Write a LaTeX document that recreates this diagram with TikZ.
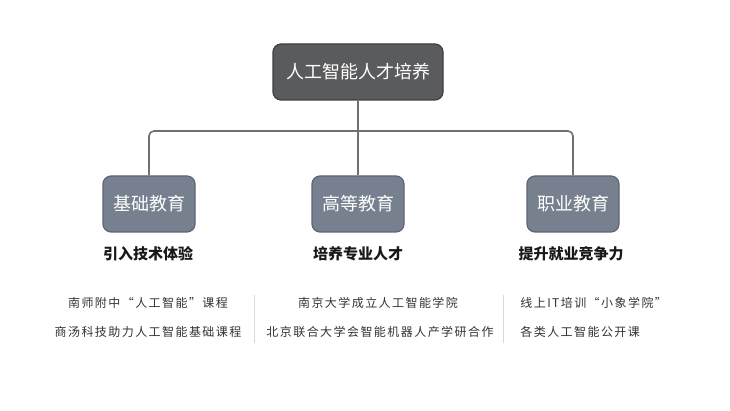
\documentclass[tikz,border=0pt]{standalone}
\usepackage{fontspec}
\setmainfont{Noto Sans CJK SC}
\newfontfamily\cjklist[LetterSpace=12]{Noto Sans CJK SC}
\definecolor{topfill}{HTML}{5A5B5D}
\definecolor{topline}{HTML}{3E3F41}
\definecolor{subfill}{HTML}{77808F}
\definecolor{subline}{HTML}{5C6573}
\definecolor{linkgray}{HTML}{707070}
\begin{document}
\begin{tikzpicture}[x=1pt,y=-1pt,thick,
    top node/.style={rectangle,rounded corners=8pt,draw=topline,fill=topfill,line width=1.2pt,
        minimum width=170pt,minimum height=56pt,inner sep=0pt,text=white,font=\fontsize{18}{20}\selectfont},
    sub node/.style={rectangle,rounded corners=8pt,draw=subline,fill=subfill,line width=1.2pt,
        minimum width=92pt,minimum height=56pt,inner sep=0pt,text=white,font=\fontsize{18}{20}\selectfont},
    goal node/.style={font=\bfseries\fontsize{15}{17}\selectfont,text=black!90,inner sep=0pt},
    item node/.style={font=\cjklist\fontsize{12}{14}\selectfont,text=black!80,inner sep=0pt},
    link/.style={draw=linkgray,line width=1.6pt,rounded corners=5pt},
    sep/.style={draw=black!15,line width=0.8pt}]
    \useasboundingbox (0,0) rectangle (730,411);

    \node[top node] at (358, 72) (root) {人工智能人才培养};
    \node[sub node] at (149, 204) (basic) {基础教育};
    \node[sub node] at (358, 204) (higher) {高等教育};
    \node[sub node] at (573, 204) (career) {职业教育};

    \coordinate (hub) at (358, 131);
    \draw[link] (root.south) -- (higher.north);
    \draw[link] (basic.north) |- (hub) -| (career.north);

    \node[goal node] at (148, 254) (g1) {引入技术体验};
    \node[goal node] at (358, 254) (g2) {培养专业人才};
    \node[goal node] at (571, 254) (g3) {提升就业竞争力};

    \node[item node] at (148, 303) (b1) {南师附中“人工智能”课程};
    \node[item node] at (148, 332) (b2) {商汤科技助力人工智能基础课程};
    \node[item node] at (378, 303) (h1) {南京大学成立人工智能学院};
    \node[item node] at (380, 332) (h2) {北京联合大学会智能机器人产学研合作};
    \node[item node,anchor=west] at (520, 303) (c1) {线上IT培训“小象学院”};
    \node[item node,anchor=west] at (520, 332) (c2) {各类人工智能公开课};

    % column separators
    \coordinate (s1a) at (254, 295);
    \coordinate (s1b) at (254, 343);
    \coordinate (s2a) at (503, 295);
    \coordinate (s2b) at (503, 343);
    \draw[sep] (s1a) -- (s1b);
    \draw[sep] (s2a) -- (s2b);
\end{tikzpicture}
\end{document}
